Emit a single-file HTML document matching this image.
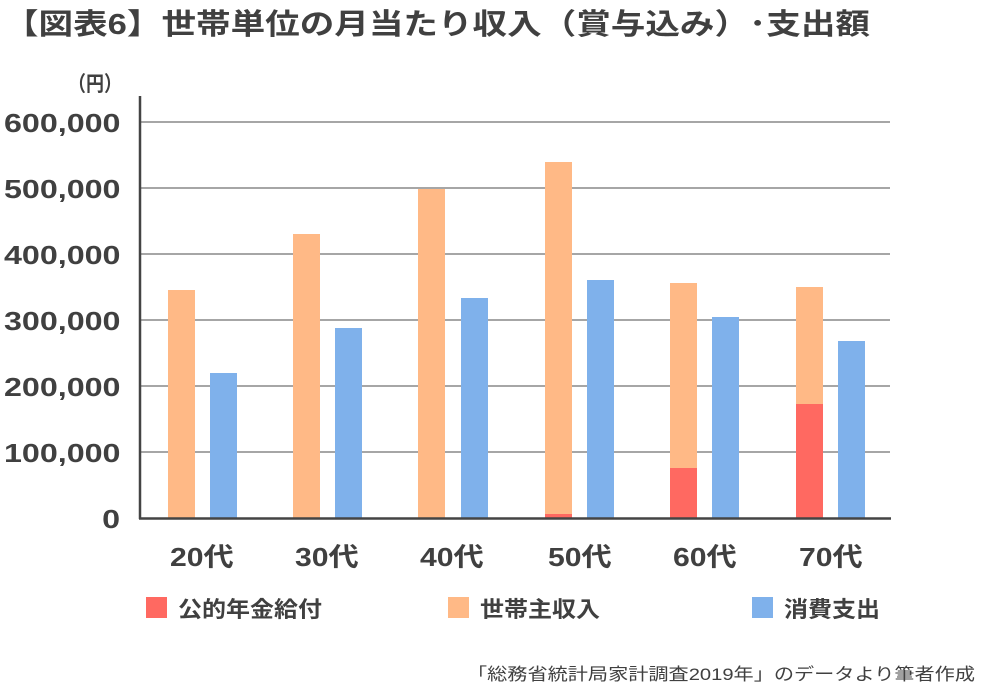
<!DOCTYPE html>
<html><head><meta charset="utf-8"><style>
html,body{margin:0;padding:0;background:#fff;}
svg{display:block;}
text{font-family:"Liberation Sans","Noto Sans CJK JP",sans-serif;font-weight:bold;fill:#404040;}
</style></head><body>
<svg width="981" height="688" viewBox="0 0 981 688">
<text x="4" y="34" font-size="29" fill="#333" textLength="866" lengthAdjust="spacingAndGlyphs">【図表6】世帯単位の月当たり収入（賞与込み）･支出額</text>
<text x="68" y="91" font-size="21" textLength="54" lengthAdjust="spacingAndGlyphs">（円）</text>
<g stroke="#a6a6a6" stroke-width="2">
<line x1="141" y1="122" x2="890" y2="122"/><line x1="141" y1="188" x2="890" y2="188"/>
<line x1="141" y1="254" x2="890" y2="254"/><line x1="141" y1="320" x2="890" y2="320"/>
<line x1="141" y1="386" x2="890" y2="386"/><line x1="141" y1="452" x2="890" y2="452"/>
</g>
<g font-size="26">
<text transform="translate(4,132) scale(1.24,1)">600,000</text>
<text transform="translate(4,198) scale(1.24,1)">500,000</text>
<text transform="translate(4,264) scale(1.24,1)">400,000</text>
<text transform="translate(4,330) scale(1.24,1)">300,000</text>
<text transform="translate(4,396) scale(1.24,1)">200,000</text>
<text transform="translate(4,462) scale(1.24,1)">100,000</text>
<text transform="translate(120,528) scale(1.24,1)" text-anchor="end">0</text>
</g>
<g fill="#ffb986">
<rect x="168" y="290" width="27" height="228"/><rect x="293" y="234" width="27" height="284"/>
<rect x="418" y="189" width="27" height="329"/><rect x="545" y="162" width="27" height="356"/>
<rect x="670" y="283" width="27" height="235"/><rect x="796" y="287" width="27" height="231"/>
</g>
<g fill="#ff6961">
<rect x="545" y="514" width="27" height="4"/><rect x="670" y="468" width="27" height="50"/>
<rect x="796" y="404" width="27" height="114"/>
</g>
<g fill="#7fb1eb">
<rect x="210" y="373" width="27" height="145"/><rect x="335" y="328" width="27" height="190"/>
<rect x="461" y="298" width="27" height="220"/><rect x="587" y="280" width="27" height="238"/>
<rect x="712" y="317" width="27" height="201"/><rect x="838" y="341" width="27" height="177"/>
</g>
<line x1="140" y1="96" x2="140" y2="519" stroke="#444" stroke-width="2.5"/>
<line x1="139" y1="518.5" x2="891" y2="518.5" stroke="#444" stroke-width="2.5"/>
<g font-size="26">
<text transform="translate(170,566) scale(1.16,1)">20代</text>
<text transform="translate(295,566) scale(1.16,1)">30代</text>
<text transform="translate(420,566) scale(1.16,1)">40代</text>
<text transform="translate(548,566) scale(1.16,1)">50代</text>
<text transform="translate(673,566) scale(1.16,1)">60代</text>
<text transform="translate(799,566) scale(1.16,1)">70代</text>
</g>
<rect x="146" y="597" width="21" height="21" fill="#ff6961"/>
<text x="178" y="617" font-size="22" textLength="144" lengthAdjust="spacingAndGlyphs">公的年金給付</text>
<rect x="448" y="597" width="21" height="21" fill="#ffb986"/>
<text x="480" y="617" font-size="22" textLength="120" lengthAdjust="spacingAndGlyphs">世帯主収入</text>
<rect x="752" y="597" width="21" height="21" fill="#7fb1eb"/>
<text x="784" y="617" font-size="22" textLength="96" lengthAdjust="spacingAndGlyphs">消費支出</text>
<text x="467" y="680" font-size="17" textLength="508" lengthAdjust="spacingAndGlyphs" style="font-weight:normal" fill="#404040">「総務省統計局家計調査2019年」のデータより筆者作成</text>
</svg>
</body></html>
